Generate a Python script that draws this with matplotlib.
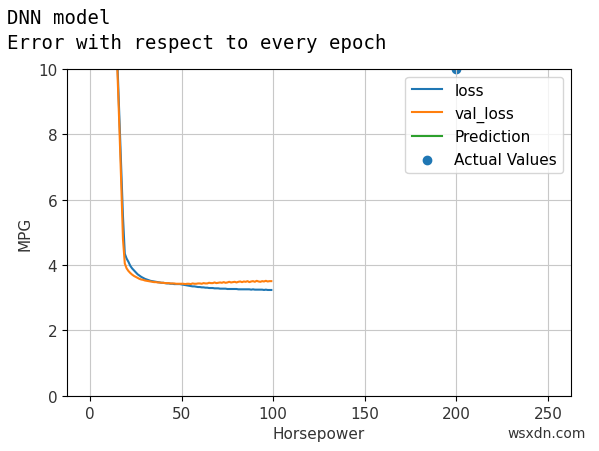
import matplotlib
matplotlib.use("Agg")
from matplotlib import pyplot as plt

# training history (epoch 0..99)
loss = [33.4, 31.9, 30.3, 28.8, 27.2, 25.7, 24.1, 22.6, 21.0, 19.5,
        17.9, 16.4, 14.8, 13.3, 11.7, 10.15, 8.6, 7.05, 5.5, 4.35,
        4.2, 4.1, 3.98, 3.9, 3.84, 3.78, 3.72, 3.68, 3.64, 3.61,
        3.58, 3.56, 3.54, 3.52, 3.51, 3.5, 3.49, 3.48, 3.47, 3.46,
        3.46, 3.45, 3.44, 3.44, 3.43, 3.43, 3.42, 3.42, 3.42, 3.42,
        3.41, 3.4, 3.39, 3.38, 3.37, 3.36, 3.35, 3.35, 3.34, 3.33,
        3.33, 3.32, 3.32, 3.31, 3.31, 3.3, 3.3, 3.3, 3.29, 3.29,
        3.29, 3.28, 3.28, 3.28, 3.28, 3.27, 3.27, 3.27, 3.27, 3.27,
        3.27, 3.26, 3.26, 3.26, 3.26, 3.26, 3.26, 3.26, 3.25, 3.26,
        3.25, 3.25, 3.25, 3.25, 3.25, 3.24, 3.25, 3.24, 3.24, 3.24]
val_loss = [33.0, 31.5, 29.9, 28.4, 26.8, 25.3, 23.7, 22.2, 20.6, 19.1,
            17.5, 16.0, 14.4, 12.9, 11.4, 9.9, 8.3, 6.6, 4.8, 4.05,
            3.9, 3.82, 3.76, 3.71, 3.67, 3.64, 3.61, 3.58, 3.56, 3.55,
            3.53, 3.52, 3.51, 3.5, 3.49, 3.48, 3.48, 3.47, 3.47, 3.46,
            3.46, 3.45, 3.45, 3.45, 3.44, 3.44, 3.44, 3.43, 3.43, 3.43,
            3.43, 3.43, 3.42, 3.43, 3.43, 3.42, 3.44, 3.43, 3.43, 3.44,
            3.44, 3.43, 3.45, 3.44, 3.44, 3.46, 3.45, 3.45, 3.47, 3.45,
            3.46, 3.47, 3.46, 3.48, 3.46, 3.47, 3.49, 3.47, 3.48, 3.49,
            3.47, 3.49, 3.5, 3.48, 3.5, 3.49, 3.51, 3.48, 3.5, 3.51,
            3.49, 3.52, 3.5, 3.49, 3.51, 3.5, 3.52, 3.5, 3.51, 3.51]
epochs = list(range(len(loss)))

# model prediction (outside the shown range) and actual values
pred_x, pred_y = [], []
hp = [200]
mpg = [10]

fig = plt.figure(figsize=(5.99, 4.52), dpi=100)
fig.text(0.012, 0.96, "DNN model", family="DejaVu Sans Mono", fontsize=13.7, va="center")
fig.text(0.012, 0.903, "Error with respect to every epoch", family="DejaVu Sans Mono",
         fontsize=13.7, va="center")

ax = fig.add_axes([0.112, 0.122, 0.841, 0.723])
ax.plot(epochs, loss, label="loss")
ax.plot(epochs, val_loss, label="val_loss")
ax.plot(pred_x, pred_y, color="C2", label="Prediction")
ax.scatter(hp, mpg, label="Actual Values")
ax.set_xlim(-12.5, 262.5)
ax.set_ylim(0, 10)
ax.set_xlabel("Horsepower", fontsize=11, color="#333333")
ax.set_ylabel("MPG", fontsize=11, color="#333333")
ax.tick_params(labelsize=11, labelcolor="#333333")
ax.grid(True, color="#c8c8c8")
ax.legend(loc="upper right", fontsize=11)

fig.text(0.978, 0.025, "wsxdn.com", fontsize=10, ha="right", va="bottom", color="#333333")

fig.savefig("out.png", dpi=100)
